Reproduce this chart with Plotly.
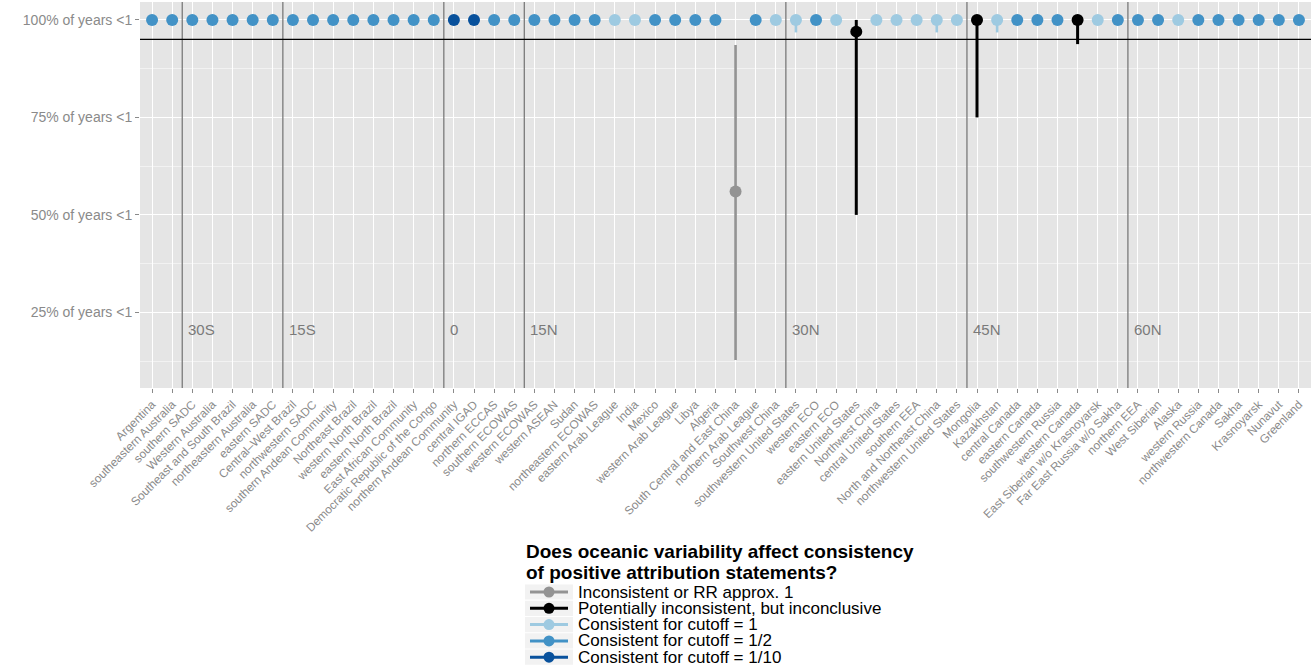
import plotly.graph_objects as go

# Regions ordered from south to north
regions = [
    "Argentina", "southeastern Australia", "southern SADC", "Western Australia",
    "Southeast and South Brazil", "northeastern Australia", "eastern SADC",
    "Central\u2013West Brazil", "northwestern SADC", "southern Andean Community",
    "Northeast Brazil", "western North Brazil", "eastern North Brazil",
    "East African Community", "Democratic Republic of the Congo",
    "northern Andean Community", "central IGAD", "northern ECCAS", "southern ECOWAS",
    "western ECOWAS", "western ASEAN", "Sudan", "northeastern ECOWAS",
    "eastern Arab League", "India", "Mexico", "western Arab League", "Libya",
    "Algeria", "South Central and East China", "northern Arab League",
    "Southwest China", "southwestern United States", "western ECO", "eastern ECO",
    "eastern United States", "Northwest China", "central United States",
    "southern EEA", "North and Northeast China", "northwestern United States",
    "Mongolia", "Kazakhstan", "central Canada", "eastern Canada",
    "southwestern Russia", "western Canada", "East Siberian w/o Krasnoyarsk",
    "Far East Russia w/o Sakha", "northern EEA", "West Siberian", "Alaska",
    "western Russia", "northwestern Canada", "Sakha", "Krasnoyarsk", "Nunavut",
    "Greenland",
]

# Consistency class per region: G=inconsistent, K=inconclusive,
# C1=cutoff 1, C2=cutoff 1/2, C10=cutoff 1/10
category = [
    "C2", "C2", "C2", "C2", "C2", "C2", "C2", "C2", "C2", "C2",
    "C2", "C2", "C2", "C2", "C2", "C10", "C10", "C2", "C2", "C2",
    "C2", "C2", "C2", "C1", "C1", "C2", "C2", "C2", "C2", "G",
    "C2", "C1", "C1", "C2", "C1", "K", "C1", "C1", "C1", "C1",
    "C1", "K", "C1", "C2", "C2", "C2", "K", "C1", "C2", "C2",
    "C2", "C1", "C2", "C2", "C2", "C2", "C2", "C2",
]

# Share of years with ratio < 1 (percent) and its range
pct_mid = [100] * 58
pct_lo = [100] * 58
pct_hi = [100] * 58
for name, mid, lo, hi in [
    ("South Central and East China", 56, 12.8, 93.6),
    ("southwestern United States", 100, 96.8, 100),
    ("eastern United States", 97, 50, 100),
    ("North and Northeast China", 100, 96.8, 100),
    ("Mongolia", 100, 75, 100),
    ("Kazakhstan", 100, 96.8, 100),
    ("western Canada", 100, 93.8, 100),
]:
    i = regions.index(name)
    pct_mid[i], pct_lo[i], pct_hi[i] = mid, lo, hi

threshold = 95

# Latitude bands: label and the last region south of the boundary
lat_labels = ["30S", "15S", "0", "15N", "30N", "45N", "60N"]
lat_last_region = ["southeastern Australia", "eastern SADC",
                   "Democratic Republic of the Congo", "southern ECOWAS",
                   "Southwest China", "northwestern United States",
                   "Far East Russia w/o Sakha"]

y_ticks = [25, 50, 75, 100]
y_tick_text = [f"{v}% of years <1" for v in y_ticks]

classes = ["G", "K", "C1", "C2", "C10"]
class_names = {
    "G": "Inconsistent or RR approx. 1",
    "K": "Potentially inconsistent, but inconclusive",
    "C1": "Consistent for cutoff = 1",
    "C2": "Consistent for cutoff = 1/2",
    "C10": "Consistent for cutoff = 1/10",
}
class_colors = {"G": "#939393", "K": "#000000", "C1": "#9ecae1",
                "C2": "#4292c6", "C10": "#08519c"}
bar_width = {"G": 2.6, "K": 3, "C1": 2.6, "C2": 2.6, "C10": 2.6}

W, H = 1311, 668
L, R, T, B = 140, 0, 2, 280
PW, PH = W - L - R, H - T - B

fig = go.Figure()
for c in classes:
    idx = [i for i, k in enumerate(category) if k == c]
    fig.add_trace(go.Scatter(
        x=idx,
        y=[pct_mid[i] for i in idx],
        mode="markers",
        name=class_names[c],
        marker=dict(color=class_colors[c], size=12, line=dict(width=0)),
        error_y=dict(type="data", symmetric=False,
                     array=[pct_hi[i] - pct_mid[i] for i in idx],
                     arrayminus=[pct_mid[i] - pct_lo[i] for i in idx],
                     color=class_colors[c], thickness=bar_width[c], width=0),
        showlegend=False,
        cliponaxis=False,
    ))

shapes = []
annotations = []
for lab, last in zip(lat_labels, lat_last_region):
    xb = regions.index(last) + 0.5
    shapes.append(dict(type="line", xref="x", yref="paper", x0=xb, x1=xb, y0=0, y1=1,
                       line=dict(color="#7a7a7a", width=1.3), layer="above"))
    annotations.append(dict(x=xb, y=20.5, xref="x", yref="y", text=lab,
                            showarrow=False, xanchor="left", yanchor="middle",
                            xshift=4, font=dict(size=15, color="#7a7a7a")))

shapes.append(dict(type="line", xref="paper", yref="y", x0=0, x1=1,
                   y0=threshold, y1=threshold,
                   line=dict(color="#000000", width=1.2), layer="above"))


# Legend drawn in pixel space below the panel
def px(X):
    return (X - L) / PW


def py(Y):
    return (H - B - Y) / PH


annotations.append(dict(xref="paper", yref="paper", x=px(524), y=py(551),
                        xanchor="left", yanchor="middle", showarrow=False,
                        text="<b>Does oceanic variability affect consistency</b>",
                        font=dict(size=19, color="#000000")))
annotations.append(dict(xref="paper", yref="paper", x=px(524), y=py(572),
                        xanchor="left", yanchor="middle", showarrow=False,
                        text="<b>of positive attribution statements?</b>",
                        font=dict(size=19, color="#000000")))
row_y = [592, 608.3, 624.6, 640.9, 657.2]
for c, yc in zip(classes, row_y):
    shapes.append(dict(type="rect", xref="paper", yref="paper",
                       x0=px(525), x1=px(573), y0=py(yc + 7.6), y1=py(yc - 7.6),
                       fillcolor="#f2f2f2", line=dict(width=0), layer="below"))
    shapes.append(dict(type="line", xref="paper", yref="paper",
                       x0=px(530), x1=px(568), y0=py(yc), y1=py(yc),
                       line=dict(color=class_colors[c], width=3)))
    shapes.append(dict(type="circle", xref="paper", yref="paper",
                       x0=px(543.5), x1=px(554.5), y0=py(yc + 5.5), y1=py(yc - 5.5),
                       fillcolor=class_colors[c], line=dict(width=0)))
    annotations.append(dict(xref="paper", yref="paper", x=px(576), y=py(yc),
                            xanchor="left", yanchor="middle", showarrow=False,
                            text=class_names[c],
                            font=dict(size=17, color="#000000")))

fig.update_layout(
    width=W, height=H,
    margin=dict(l=L, r=R, t=T, b=B, autoexpand=False),
    paper_bgcolor="#ffffff",
    plot_bgcolor="#e5e5e5",
    font=dict(family="Liberation Sans, Arial, sans-serif"),
    shapes=shapes,
    annotations=annotations,
    showlegend=False,
)
fig.update_xaxes(
    range=[-0.6, len(regions) - 0.4],
    tickmode="array", tickvals=list(range(len(regions))), ticktext=regions,
    tickangle=-45, tickfont=dict(size=11.8, color="#8a8a8a"),
    ticks="outside", ticklen=4, tickcolor="#8a8a8a", tickwidth=1,
    showgrid=True, gridcolor="#ffffff", gridwidth=1.2,
    zeroline=False, showline=False,
)
fig.update_yaxes(
    range=[5.6, 104.6],
    tickmode="array", tickvals=y_ticks, ticktext=y_tick_text,
    tickfont=dict(size=14, color="#8a8a8a"),
    ticks="outside", ticklen=4, tickcolor="#8a8a8a", tickwidth=1,
    showgrid=True, gridcolor="#ffffff", gridwidth=1.2,
    minor=dict(tickmode="array", tickvals=[12.5, 37.5, 62.5, 87.5],
               showgrid=True, gridcolor="#f2f2f2", gridwidth=0.6, ticks=""),
    zeroline=False, showline=False,
)

fig.write_html("out.html")
